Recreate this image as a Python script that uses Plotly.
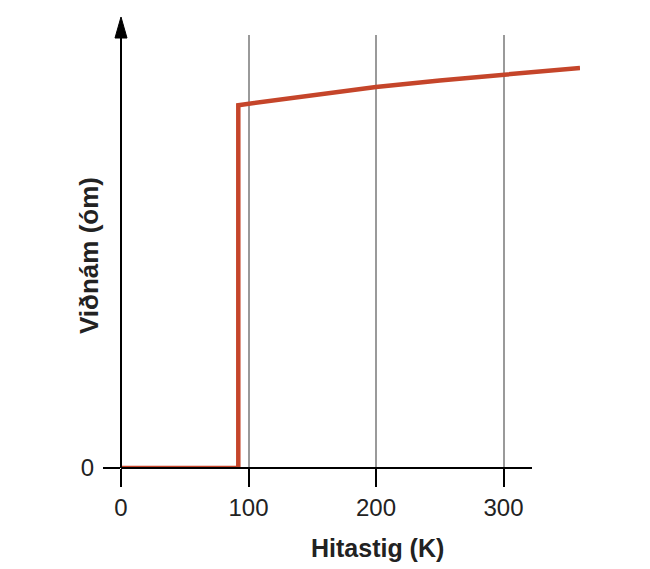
import plotly.graph_objects as go

# temperature (K) and resistance (arbitrary units)
temp = [0, 92, 92, 100, 150, 200, 250, 300, 360]
resist = [0, 0, 83.8, 84.1, 86.0, 88.0, 89.5, 90.9, 92.4]

x_ticks = [0, 100, 200, 300]
y_ticks = [0]

red = "#c5452a"
font = "Liberation Sans, Arial, sans-serif"

# the page body adds an 8px offset, so margins are reduced by that
L, T, PW, PH = 113, 27, 459, 433

fig = go.Figure()
fig.add_trace(go.Scatter(x=temp, y=resist, mode="lines",
                         line=dict(color=red, width=4.5), showlegend=False))

# axis lines and arrow drawn as shapes (in paper coords so they are not clipped)
x_end = (532 - 121) / PW
fig.add_shape(type="line", xref="paper", yref="paper", x0=0, x1=x_end, y0=0, y1=0,
              line=dict(color="black", width=2), layer="above")
fig.add_shape(type="line", xref="paper", yref="paper", x0=0, x1=0, y0=0, y1=1.0,
              line=dict(color="black", width=2), layer="above")
fig.add_shape(type="path", xref="paper", yref="paper",
              path="M -0.0131,0.993 L 0.0131,0.993 L 0,1.0416 Z",
              fillcolor="black", line=dict(color="black", width=1), layer="above")

fig.update_layout(
    width=650, height=569,
    margin=dict(l=L, r=650 - L - PW, t=T, b=569 - T - PH),
    paper_bgcolor="white", plot_bgcolor="white",
    font=dict(family=font, size=24, color="#222"),
    xaxis=dict(range=[0, 360], tickvals=x_ticks, ticks="outside", ticklen=18,
               tickwidth=2, tickcolor="black", showgrid=True, gridcolor="#9a9a9a",
               gridwidth=1.5, zeroline=False, showline=False,
               tickfont=dict(size=24, family=font, color="#222")),
    yaxis=dict(range=[0, 100], tickvals=y_ticks, ticks="outside", ticklen=17,
               tickwidth=2, tickcolor="black", showgrid=False, zeroline=False,
               showline=False, ticklabelstandoff=4,
               tickfont=dict(size=24, family=font, color="#222")),
    annotations=[
        dict(text="<b>Hitastig (K)</b>", xref="paper", yref="paper",
             x=(377 - 121) / PW, y=-(548 - 468) / PH, showarrow=False,
             font=dict(size=25, family=font, color="#222"),
             xanchor="center", yanchor="middle"),
        dict(text="<b>Viðnám (óm)</b>", xref="paper", yref="paper",
             x=-(121 - 89) / PW, y=(468 - 256) / PH, showarrow=False,
             textangle=-90, font=dict(size=26, family=font, color="#222"),
             xanchor="center", yanchor="middle"),
    ],
)

fig.write_html("out.html")
